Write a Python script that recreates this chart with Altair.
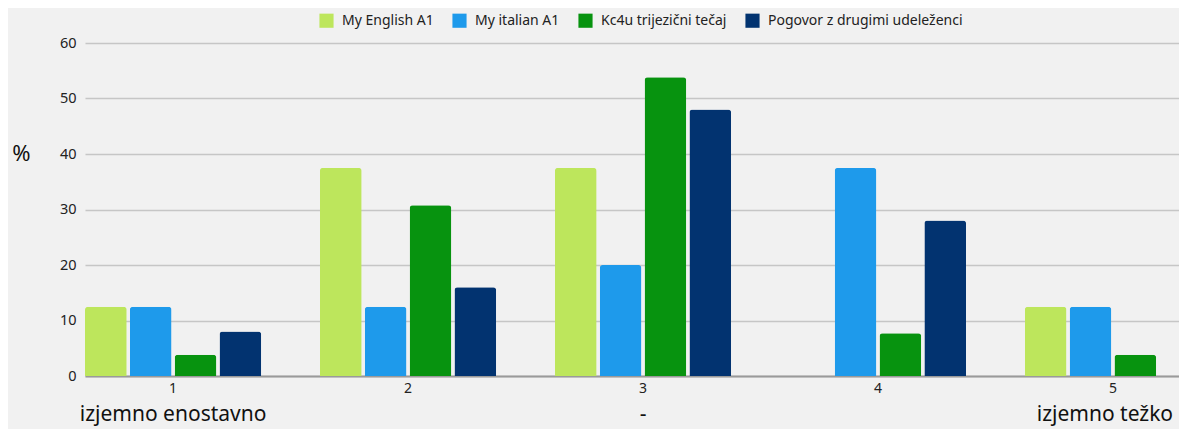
import altair as alt
import pandas as pd

categories = ["1", "2", "3", "4", "5"]
series = ["My English A1", "My italian A1", "Kc4u trijezični tečaj", "Pogovor z drugimi udeleženci"]
english = [12.5, 37.5, 37.5, 0, 12.5]
italian = [12.5, 12.5, 20, 37.5, 12.5]
kc4u = [3.85, 30.77, 53.85, 7.69, 3.85]
pogovor = [8, 16, 48, 28, 0]
colors = ["#bde65c", "#1e9aeb", "#07930f", "#023370"]

scale_cats = ["1", "3"]
scale_texts = ["izjemno enostavno", "-"]
end_cat = ["5"]
end_text = ["izjemno težko"]

rows = []
for s, vals in zip(series, [english, italian, kc4u, pogovor]):
    for c, v in zip(categories, vals):
        rows.append({"cat": c, "series": s, "value": v})
df = pd.DataFrame(rows)
df_txt = pd.DataFrame({"cat": scale_cats, "label": scale_texts})
df_end = pd.DataFrame({"cat": end_cat, "label": end_text})

FONT = "Noto Sans"

x_enc = alt.X(
    "cat:O",
    sort=categories,
    scale=alt.Scale(range=[0, 1116], paddingInner=0.25, paddingOuter=0),
    axis=alt.Axis(
        title=None, labelAngle=0, ticks=False, labelPadding=5, labelFontSize=14,
        labelColor="#222222", labelFont=FONT, domainColor="#9a9a9a", domainWidth=2,
    ),
)

bars = alt.Chart(df).mark_bar(cornerRadiusTopLeft=3, cornerRadiusTopRight=3).encode(
    x=x_enc,
    xOffset=alt.XOffset("series:N", sort=series,
                        scale=alt.Scale(domain=series, paddingInner=0.07)),
    y=alt.Y(
        "value:Q",
        scale=alt.Scale(domain=[0, 60]),
        axis=alt.Axis(
            title="%", titleAngle=0, titleFontSize=22, titleFontWeight="normal",
            titleFont=FONT, titleColor="#111111", titleX=-64, titleY=110,
            titleAlign="center", titleBaseline="middle",
            values=[0, 10, 20, 30, 40, 50, 60], ticks=False, domain=False,
            labelPadding=9, labelFontSize=14.5, labelColor="#222222", labelFont=FONT,
            gridColor="#c6c6c6", gridWidth=1.5,
        ),
    ),
    color=alt.Color(
        "series:N", sort=series,
        scale=alt.Scale(domain=series, range=colors),
        legend=alt.Legend(
            title=None, orient="none", direction="horizontal", legendX=234, legendY=-30,
            symbolType="square", symbolSize=200, symbolStrokeWidth=0, labelFontSize=14,
            labelFont=FONT, labelColor="#222222", labelOffset=8, columnPadding=18,
            labelLimit=400,
        ),
    ),
)

texts = alt.Chart(df_txt).mark_text(fontSize=21, font=FONT, color="#111111", baseline="middle").encode(
    x=alt.X("cat:O", sort=categories),
    text="label:N",
    y=alt.value(372),
)

end_texts = alt.Chart(df_end).mark_text(fontSize=21, font=FONT, color="#111111",
                                         baseline="middle", dx=-8).encode(
    x=alt.X("cat:O", sort=categories),
    text="label:N",
    y=alt.value(372),
)

chart = alt.layer(bars, texts, end_texts).properties(
    width=1094, height=333,
    background="#f1f1f1",
    autosize=alt.AutoSizeParams(type="none"),
    padding={"left": 77, "top": 35, "right": 0, "bottom": 53},
).configure_view(stroke=None)

chart.save("out.html", embed_options={"renderer": "svg", "actions": False})
